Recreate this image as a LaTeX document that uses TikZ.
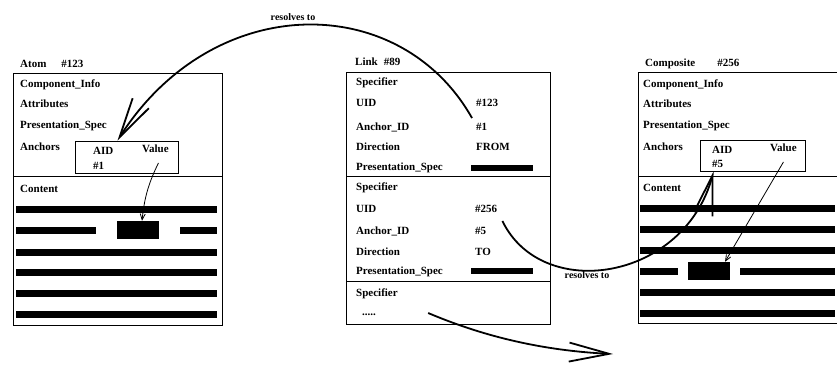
\documentclass[tikz,border=0pt]{standalone}
\usepackage{fontspec}
\setmainfont{Liberation Serif}
\usetikzlibrary{arrows.meta, bending, positioning}

\begin{document}
\begin{tikzpicture}[
			x=1pt, y=-1pt,
			every node/.style={font=\fontsize{11}{13}\selectfont\bfseries},
			panel/.style={draw, line width=1pt, inner sep=0pt, anchor=north west},
			rule/.style={line width=1pt},
			field/.style={anchor=west, inner sep=0pt, text height=7.5pt, text depth=2pt},
			anchorbox/.style={draw, line width=1pt, inner sep=0pt},
			blob/.style={fill=black, inner sep=0pt, minimum width=42pt, minimum height=18pt},
			bar/.style={line width=7pt},
			specbar/.style={line width=6pt},
			resolve/.style={-{Straight Barb[length=40pt,width=19pt]}, line width=1.8pt},
			pointer/.style={-{Straight Barb[length=6pt,width=5pt]}, line width=0.8pt},
			tag/.style={font=\fontsize{10}{12}\selectfont\bfseries}
			]
			
			\useasboundingbox (0,0) rectangle (837,367);
			
			% Atom
			\node[field] (atomT) at (20,65) {Atom\hspace{15pt}\#123};
			\node[panel, minimum width=209pt, minimum height=252pt] (atom) at (13,73) {};
			\node[field] (aci)   at (20,85)  {Component\_Info};
			\node[field] (aattr) at (20,105) {Attributes};
			\node[field] (apres) at (20,126) {Presentation\_Spec};
			\node[field] (aanc)  at (20,148) {Anchors};
			\node[anchorbox, minimum width=103pt, minimum height=32pt] (aanch) at (126.5,157) {};
			\node[field] (aaid) at (93,152)  {AID};
			\node[field] (aval) at (142,150) {Value};
			\node[field] (aid)  at (93,167)  {\#1};
			\draw[rule] (13,176) -- (222,176);
			\node[field] (acont) at (20,190) {Content};
			\draw[bar] (16,209) -- (217,209);
			\draw[bar] (16,230) -- (96,230);
			\draw[bar] (180,230) -- (217,230);
			\draw[bar] (16,252) -- (217,252);
			\draw[bar] (16,272) -- (217,272);
			\draw[bar] (16,293) -- (217,293);
			\draw[bar] (16,314) -- (217,314);
			\node[blob] (ablk) at (138,230) {};
			
			% Link
			\node[field] (linkT) at (355,63) {Link\hspace{6pt}\#89};
			\node[panel, minimum width=204pt, minimum height=252pt] (link) at (346,72) {};
			\node[field] (l1spec) at (356,83)  {Specifier};
			\node[field] (l1uidL) at (356,104) {UID};
			\node[field] (l1aidL) at (356,128) {Anchor\_ID};
			\node[field] (l1dirL) at (356,148) {Direction};
			\node[field] (l1pres) at (356,168) {Presentation\_Spec};
			\node[field] (l1uid)  at (476,104) {\#123};
			\node[field] (l1aid)  at (476,128) {\#1};
			\node[field] (l1dir)  at (476,148) {FROM};
			\draw[specbar] (471,168) -- (533,168);
			\draw[rule] (346,176) -- (550,176);
			\node[field] (l2spec) at (356,188) {Specifier};
			\node[field] (l2uidL) at (356,210) {UID};
			\node[field] (l2aidL) at (356,232) {Anchor\_ID};
			\node[field] (l2dirL) at (356,253) {Direction};
			\node[field] (l2pres) at (356,272) {Presentation\_Spec};
			\node[field] (l2uid)  at (475,210) {\#256};
			\node[field] (l2aid)  at (475,232) {\#5};
			\node[field] (l2dir)  at (475,253) {TO};
			\draw[specbar] (471,271) -- (533,271);
			\draw[rule] (346,281) -- (550,281);
			\node[field] (l3spec) at (356,294) {Specifier};
			\node[field] (ldots)  at (362,313) {.....};
			
			% Composite
			\node[field] (compT) at (645,64) {Composite\hspace{22pt}\#256};
			\draw[rule] (837,72) -- (638,72) -- (638,323) -- (837,323);
			\node[field] (cci)   at (643,85)  {Component\_Info};
			\node[field] (cattr) at (643,105) {Attributes};
			\node[field] (cpres) at (643,126) {Presentation\_Spec};
			\node[field] (canc)  at (643,148) {Anchors};
			\node[anchorbox, minimum width=105pt, minimum height=31pt] (canch) at (752.5,155.5) {};
			\node[field] (caid) at (712,151) {AID};
			\node[field] (cval) at (770,149) {Value};
			\node[field] (cid)  at (712,165) {\#5};
			\draw[rule] (638,176) -- (837,176);
			\node[field] (ccont) at (643,189) {Content};
			\draw[bar] (640,208) -- (835,208);
			\draw[bar] (640,229) -- (835,229);
			\draw[bar] (640,250) -- (835,250);
			\draw[bar] (640,271) -- (678,271);
			\draw[bar] (740,271) -- (835,271);
			\draw[bar] (640,292) -- (835,292);
			\draw[bar] (640,313) -- (835,313);
			\node[blob] (cblk) at (709,271) {};
			
			% Arrows
			\coordinate (more) at (613,354);
			\draw[resolve] ([xshift=-4pt,yshift=5pt]l1aid.north west)
			.. controls +(-72,-128) and +(93,-151) .. ([xshift=-9pt]aanch.north);
			\node[tag] (res1) at (293,17) {resolves to};
			\draw[resolve] ([xshift=5pt,yshift=-6pt]l2uid.south east)
			.. controls +(40,83) and +(-25,109) .. ([xshift=14pt]canch.south west);
			\node[tag] (res2) at (587,275) {resolves to};
			\draw[resolve] ([xshift=52pt]ldots.east)
			.. controls +(52,22) and +(-73,-3) .. (more);
			\draw[pointer] ([xshift=3pt,yshift=-8pt]aval.south) to[bend right=10] ([xshift=4pt]ablk.north);
			\draw[pointer] ([yshift=-8pt]cval.south) -- ([xshift=16pt]cblk.north);
			
		\end{tikzpicture}
\end{document}
